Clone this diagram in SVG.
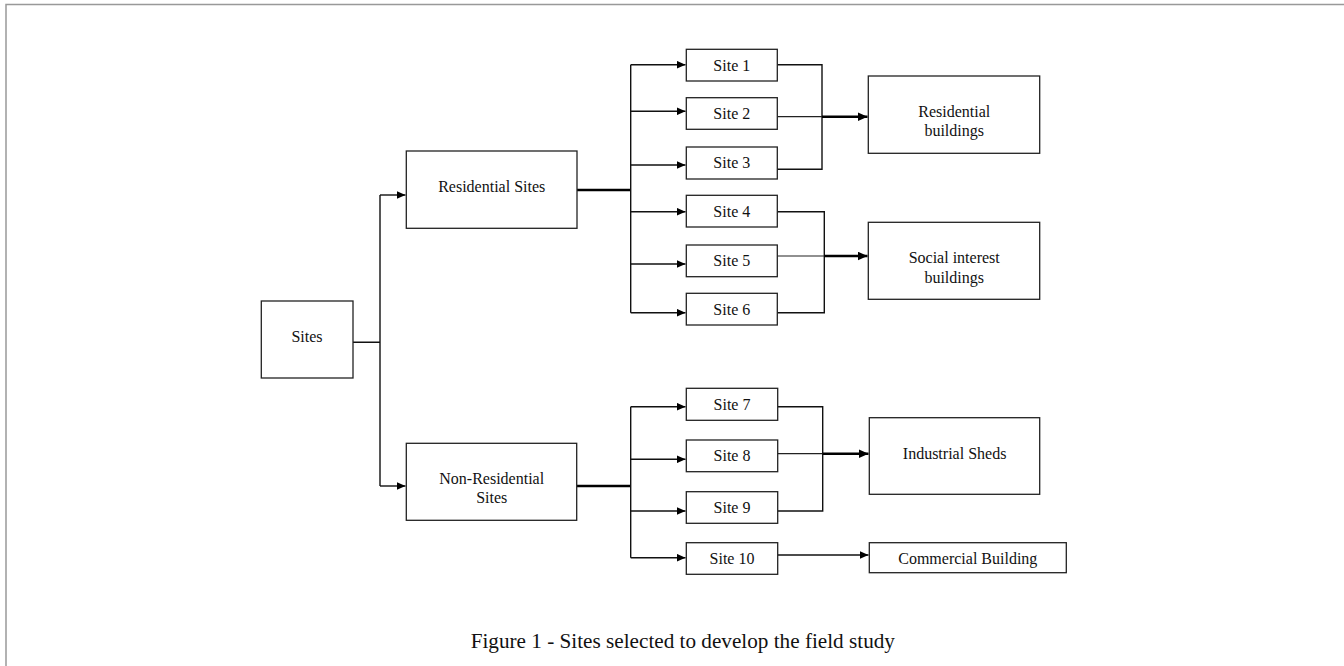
<svg xmlns="http://www.w3.org/2000/svg" width="1344" height="666" viewBox="0 0 1344 666">
<style>
.box{fill:#fff;stroke:#222;stroke-width:1.3}
.t{font-family:"Liberation Serif","Times New Roman",serif;font-size:16px;fill:#111;text-anchor:middle}
.cap{font-family:"Liberation Serif","Times New Roman",serif;font-size:21.2px;fill:#111;text-anchor:middle}
.ln{fill:none;stroke:#111;stroke-width:1.4}
.thin{fill:none;stroke:#222;stroke-width:1.2}
.thk{fill:none;stroke:#000;stroke-width:2.6}
</style>
<defs>
<marker id="ah" markerWidth="9" markerHeight="8" refX="9" refY="4" orient="auto" markerUnits="userSpaceOnUse"><path d="M0,0 L9,4 L0,8 Z" fill="#000"/></marker>
<marker id="ahb" markerWidth="10" markerHeight="9" refX="10" refY="4.5" orient="auto" markerUnits="userSpaceOnUse"><path d="M0,0 L10,4.5 L0,9 Z" fill="#000"/></marker>
</defs>
<rect x="6" y="4.5" width="1400" height="700" fill="#fff" stroke="#999" stroke-width="1.5"/>
<g id="connectors">
<path class="ln" d="M353,342.3 H380 M380,195 V486"/>
<path class="ln" d="M380,195 H405.5" marker-end="url(#ah)"/>
<path class="ln" d="M380,486 H405.5" marker-end="url(#ah)"/>
<path class="thk" d="M577,190 H630.7"/>
<path class="ln" d="M630.7,64.7 V312.7"/>
<path class="ln" d="M630.7,64.7 H685.5" marker-end="url(#ah)"/>
<path class="ln" d="M630.7,111.3 H685.5" marker-end="url(#ah)"/>
<path class="ln" d="M630.7,165 H685.5" marker-end="url(#ah)"/>
<path class="ln" d="M630.7,211.7 H685.5" marker-end="url(#ah)"/>
<path class="ln" d="M630.7,264 H685.5" marker-end="url(#ah)"/>
<path class="ln" d="M630.7,312.7 H685.5" marker-end="url(#ah)"/>
<path class="thk" d="M577,486 H630.7"/>
<path class="ln" d="M630.7,406.7 V557.7"/>
<path class="ln" d="M630.7,406.7 H685.5" marker-end="url(#ah)"/>
<path class="ln" d="M630.7,459.3 H685.5" marker-end="url(#ah)"/>
<path class="ln" d="M630.7,511 H685.5" marker-end="url(#ah)"/>
<path class="ln" d="M630.7,557.7 H685.5" marker-end="url(#ah)"/>
<path class="ln" d="M777.3,64.7 H822 V169.3 H776"/>
<path class="thin" d="M777.3,116.7 H822"/>
<path class="thk" d="M822,116.7 H867.5" marker-end="url(#ahb)"/>
<path class="ln" d="M777.3,211.7 H824.3 V312.7 H777.3"/>
<path class="thin" d="M777.3,256 H824.3"/>
<path class="thk" d="M824.3,256 H867.5" marker-end="url(#ahb)"/>
<path class="ln" d="M777.7,406.7 H822.7 V511 H777.7"/>
<path class="thin" d="M777.7,453.7 H822.7"/>
<path class="thk" d="M822.7,453.7 H868.5" marker-end="url(#ahb)"/>
<path class="ln" d="M777.7,555 H868.5" marker-end="url(#ah)"/>
</g>
<g id="sites"><rect class="box" x="261.3" y="301" width="91.7" height="77"/><text class="t" x="307" y="341.7">Sites</text></g>
<g id="residential-sites"><rect class="box" x="406.3" y="151" width="170.7" height="77.3"/><text class="t" x="491.7" y="192.3">Residential Sites</text></g>
<g id="non-residential-sites"><rect class="box" x="406.3" y="443.3" width="170.4" height="77"/><text class="t" x="491.7" y="484.3">Non-Residential</text><text class="t" x="491.7" y="503.3">Sites</text></g>
<g id="site1"><rect class="box" x="686.3" y="49.3" width="91" height="31.7"/><text class="t" x="731.8" y="70.5">Site 1</text></g>
<g id="site2"><rect class="box" x="686.3" y="97.7" width="91" height="31.6"/><text class="t" x="731.8" y="118.8">Site 2</text></g>
<g id="site3"><rect class="box" x="686.3" y="147" width="91" height="32"/><text class="t" x="731.8" y="168.3">Site 3</text></g>
<g id="site4"><rect class="box" x="686.3" y="195.3" width="91" height="31.7"/><text class="t" x="731.8" y="216.5">Site 4</text></g>
<g id="site5"><rect class="box" x="686.3" y="245" width="91" height="31.7"/><text class="t" x="731.8" y="266.3">Site 5</text></g>
<g id="site6"><rect class="box" x="686.3" y="293.3" width="91" height="31.7"/><text class="t" x="731.8" y="314.5">Site 6</text></g>
<g id="site7"><rect class="box" x="686.3" y="388.3" width="91.4" height="32"/><text class="t" x="732" y="409.6">Site 7</text></g>
<g id="site8"><rect class="box" x="686.3" y="440" width="91.4" height="31.7"/><text class="t" x="732" y="461.2">Site 8</text></g>
<g id="site9"><rect class="box" x="686.3" y="491.7" width="91.4" height="31.6"/><text class="t" x="732" y="512.8">Site 9</text></g>
<g id="site10"><rect class="box" x="686.3" y="542.7" width="91.4" height="31.6"/><text class="t" x="732" y="563.8">Site 10</text></g>
<g id="residential-buildings"><rect class="box" x="868.3" y="76" width="171.4" height="77.3"/><text class="t" x="954.2" y="117.3">Residential</text><text class="t" x="954.2" y="136">buildings</text></g>
<g id="social-interest-buildings"><rect class="box" x="868.3" y="222.3" width="171.4" height="77"/><text class="t" x="954.2" y="263">Social interest</text><text class="t" x="954.2" y="282.5">buildings</text></g>
<g id="industrial-sheds"><rect class="box" x="869.3" y="417.7" width="170.4" height="76.6"/><text class="t" x="954.6" y="459">Industrial Sheds</text></g>
<g id="commercial-building"><rect class="box" x="869.3" y="542.7" width="197" height="30"/><text class="t" x="967.8" y="564.3">Commercial Building</text></g>
<text class="cap" x="682.8" y="648.3">Figure 1 - Sites selected to develop the field study</text>
</svg>
